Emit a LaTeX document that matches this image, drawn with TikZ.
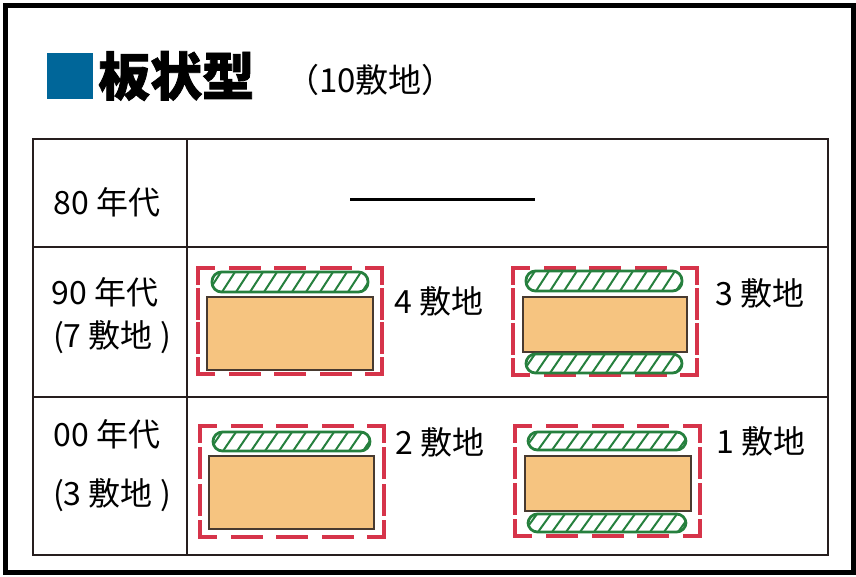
\documentclass[tikz,border=0pt]{standalone}
\usepackage{fontspec}
\newfontfamily\jp{Noto Sans CJK JP}
\newfontfamily\jptitle[BoldFeatures={FakeBold=1.5}]{Noto Sans CJK JP}
\usetikzlibrary{positioning}
\definecolor{titleblue}{RGB}{0,102,153}
\definecolor{lotred}{RGB}{214,52,74}
\definecolor{lotgreen}{RGB}{38,128,62}
\definecolor{lotorange}{RGB}{246,196,128}
\definecolor{lotedge}{RGB}{72,58,48}
\definecolor{rulecol}{RGB}{38,30,30}
\tikzset{
  outerframe/.style={line width=5pt},
  grid/.style={draw=rulecol,line width=2.2pt},
  bound/.style={draw=lotred,line width=3.4pt,line cap=rect},
  block/.style={fill=lotorange,draw=lotedge,line width=1.3pt},
  pillline/.style={draw=lotgreen,line width=2.8pt,rounded corners=9.5pt},
  hatch/.style={draw=lotgreen,line width=2pt},
  era/.style={font=\jp\fontsize{32}{38}\selectfont,inner sep=0pt},
  count/.style={era,anchor=west},
}
% one dashed side, corner arms at both ends
\newcommand{\dashside}[4]{%
  \pgfmathsetmacro\len{veclen(#3-#1,#4-#2)}
  \pgfmathsetmacro\k{floor((\len-30.6+17.4)/46)}
  \pgfmathsetmacro\gap{(\len-30.6-28.6*\k)/(\k+1)}
  \draw[bound,dash pattern=on 28.6pt off \gap pt,dash phase=13.3pt] (#1,#2) -- (#3,#4);}
\newcommand{\boundary}[4]{%
  \dashside{#1}{#2}{#3}{#2}\dashside{#3}{#2}{#3}{#4}%
  \dashside{#3}{#4}{#1}{#4}\dashside{#1}{#4}{#1}{#2}}
% hatched green strip
\newcommand{\pill}[4]{%
  \begin{scope}
    \clip[rounded corners=9.5pt] (#1,#2) rectangle (#3,#4);
    \foreach \h in {0,14,...,168}
      \draw[hatch] ({#1+\h-4},#4) -- ++(13,{#2-#4});
  \end{scope}
  \draw[pillline] (#1,#2) rectangle (#3,#4);}
\begin{document}
\begin{tikzpicture}[x=1pt,y=-1pt]
  \useasboundingbox (0,0) rectangle (856,577);
  \draw[outerframe] (5.5,5.5) rectangle (853.5,572.5);
  % title
  \fill[titleblue] (47,53) rectangle (93,99);
  \node[anchor=west,inner sep=0pt,font=\jptitle\bfseries\fontsize{52}{56}\selectfont] (title) at (98,76) {板状型};
  \node[anchor=west,inner sep=0pt,font=\jp\fontsize{33}{38}\selectfont] (total) at (286,80) {（10敷地）};
  % table
  \draw[grid] (33,139) rectangle (828,555);
  \draw[grid] (187,139) -- (187,555);
  \draw[grid] (33,247) -- (828,247);
  \draw[grid] (33,397) -- (828,397);
  \node[era] (e80) at (107,202) {80 年代};
  \node[era] (e90) at (105,292) {90 年代};
  \node[era] (n90) at (112,337) {(7 敷地 )};
  \node[era] (e00) at (107,434) {00 年代};
  \node[era] (n00) at (112,495) {(3 敷地 )};
  \draw[line width=3pt] (350,200) -- (535,200);
  % 90s
  \boundary{198}{268}{382}{374}
  \pill{212}{272}{368}{292}
  \draw[block] (207,297) rectangle (373,370);
  \node[count] (c4) at (394,301) {4 敷地};
  \boundary{513}{268}{697}{375}
  \pill{526}{271}{682}{291}
  \draw[block] (523,297) rectangle (687,352);
  \pill{526}{354}{682}{373}
  \node[count] (c3) at (715,293) {3 敷地};
  % 00s
  \boundary{200}{426}{384}{537}
  \pill{213}{432}{370}{451}
  \draw[block] (209,456) rectangle (374,529);
  \node[count] (c2) at (395,442) {2 敷地};
  \boundary{515}{426}{700}{536}
  \pill{528}{432}{686}{450}
  \draw[block] (525,456) rectangle (691,511);
  \pill{528}{514}{686}{532}
  \node[count] (c1) at (716,441) {1 敷地};
\end{tikzpicture}
\end{document}
